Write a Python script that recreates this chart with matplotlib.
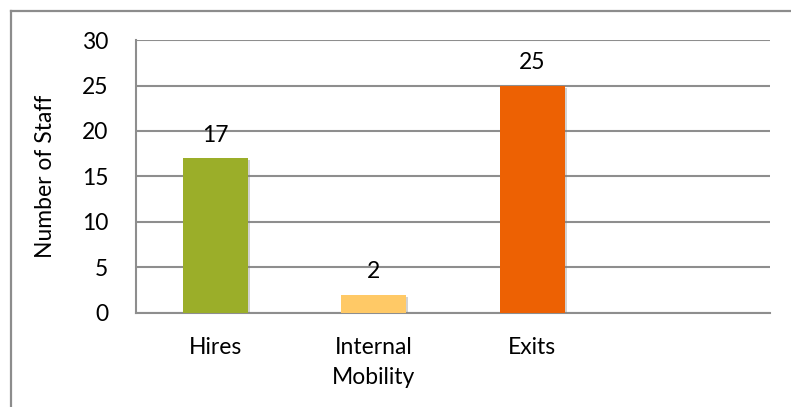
import matplotlib.pyplot as plt
import matplotlib.patheffects as pe
from matplotlib.lines import Line2D

# Chart data
categories = ['Hires', 'Internal\nMobility', 'Exits']
staff = [17, 2, 25]
colors = ['#9BAE29', '#FFC966', '#ED6103']
y_ticks = [0, 5, 10, 15, 20, 25, 30]

plt.rcParams['font.family'] = ['Lato', 'DejaVu Sans']
FS = 16.5

fig = plt.figure(figsize=(7.91, 4.07), dpi=100)
ax = fig.add_axes([0.172, 0.231, 0.8015, 0.6707])

# outer chart border (only top and left visible)
grey = '#8C8C8C'
fig.add_artist(Line2D([0.0139, 0.0139], [0, 0.973], color=grey, lw=1.6))
fig.add_artist(Line2D([0.0139, 1.0], [0.973, 0.973], color=grey, lw=1.6))

x = list(range(len(categories)))
bars = ax.bar(x, staff, width=0.41, color=colors, zorder=3,
              path_effects=[pe.SimplePatchShadow(offset=(1.5, -1.5), shadow_rgbFace='#808080', alpha=0.35),
                            pe.Normal()])

for xi, v in zip(x, staff):
    ax.annotate(str(v), (xi, v), xytext=(0, 9), textcoords='offset points',
                ha='center', va='bottom', fontsize=FS, color='black')

ax.set_xlim(-0.5, 3.5)
ax.set_ylim(0, 30)
ax.set_yticks(y_ticks)
ax.set_xticks(x)
ax.set_xticklabels(categories, fontsize=FS, linespacing=1.55, va='top')
ax.tick_params(axis='y', labelsize=FS, length=0, pad=20)
ax.tick_params(axis='x', length=0, pad=17)
ax.yaxis.grid(True, color='#8E8E8E', lw=1.5, zorder=0)
ax.set_axisbelow(True)

for side in ['top', 'right']:
    ax.spines[side].set_visible(False)
for side in ['left', 'bottom']:
    ax.spines[side].set_color('#8E8E8E')
    ax.spines[side].set_linewidth(1.5)

ax.set_ylabel('Number of Staff', fontsize=FS)
ax.yaxis.set_label_coords(-0.127, 0.5)

fig.savefig('out.png', dpi=100)
